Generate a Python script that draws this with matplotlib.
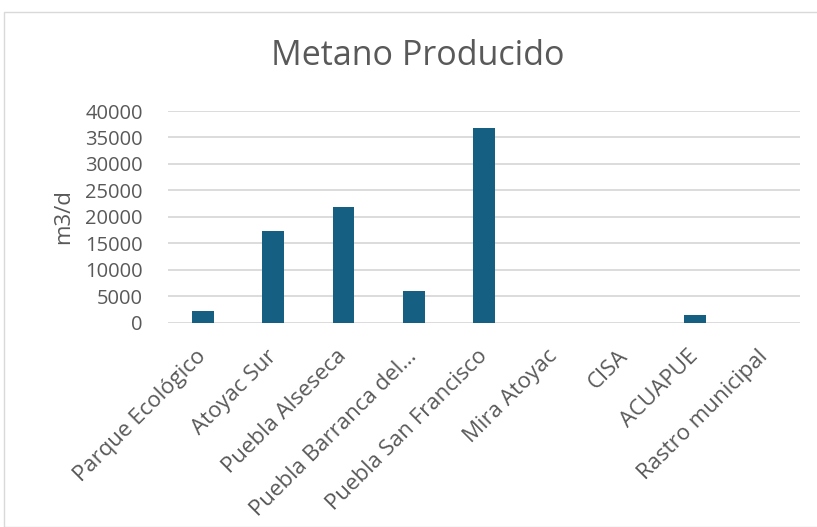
import matplotlib.pyplot as plt
from matplotlib.patches import Rectangle

plantas = ['Parque Ecológico', 'Atoyac Sur', 'Puebla Alseseca', 'Puebla Barranca del…',
           'Puebla San Francisco', 'Mira Atoyac', 'CISA', 'ACUAPUE', 'Rastro municipal']
metano = [2200, 17300, 21900, 6000, 36700, 0, 0, 1400, 0]
yticks = [0, 5000, 10000, 15000, 20000, 25000, 30000, 35000, 40000]

plt.rcParams['font.family'] = ['Open Sans', 'DejaVu Sans']
gris = '#595959'

fig = plt.figure(figsize=(8.17, 5.27), dpi=100)
# marco del grafico
fig.patches.append(Rectangle((4 / 817, 0), 1.2, 1 - 12 / 527, transform=fig.transFigure,
                             fill=False, edgecolor='#d9d9d9', linewidth=1))

ax = fig.add_axes([168 / 817, 1 - 322.7 / 527, 632 / 817, 211.7 / 527])
x = range(len(plantas))
ax.bar(x, metano, width=0.31, color='#156082', zorder=3)
ax.set_xlim(-0.5, len(plantas) - 0.5)
ax.set_ylim(0, 40000)
ax.set_yticks(yticks)
ax.set_yticklabels([str(v) for v in yticks], fontsize=14.5, color=gris)
ax.set_xticks(list(x))
ax.set_xticklabels(plantas, rotation=45, ha='right', va='center', rotation_mode='anchor',
                   fontsize=16, color=gris)
ax.tick_params(axis='y', length=0, pad=18)
ax.tick_params(axis='x', length=0, pad=22)
ax.grid(axis='y', color='#d9d9d9', linewidth=1.3, zorder=0)
for s in ax.spines.values():
    s.set_visible(False)
ax.set_ylabel('m3/d', fontsize=16, color=gris, labelpad=8)
fig.text(418 / 817, 1 - 56 / 527, 'Metano Producido', ha='center', va='center',
         fontsize=24.5, color=gris)

fig.savefig('out.png', dpi=100)
